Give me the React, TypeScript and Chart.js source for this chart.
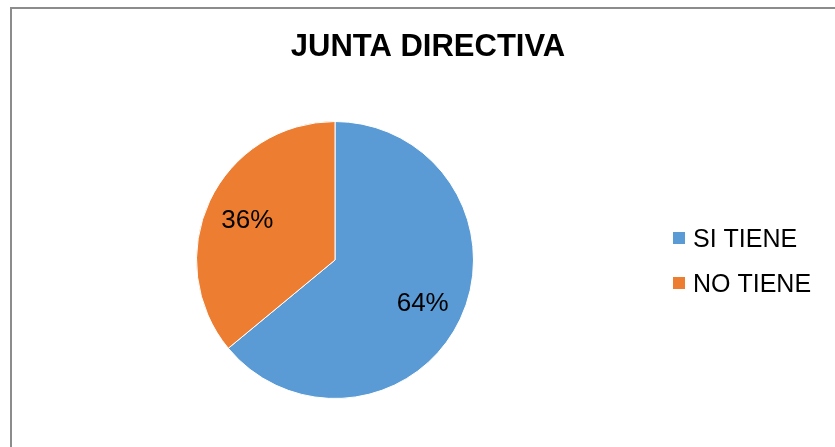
import React, { useEffect, useRef } from "react";
import { Chart, registerables } from "chart.js";

Chart.register(...registerables);

const TITLE = "JUNTA DIRECTIVA";
const CATEGORIES = ["SI TIENE", "NO TIENE"];
const VALUES = [64, 36];
const COLORS = ["#5B9BD5", "#ED7D31"];

const FONT = "'Liberation Sans', Arial, Helvetica, sans-serif";

const topTitle = {
  id: "topTitle",
  afterDraw(chart: any) {
    const ctx = chart.ctx;
    const text = chart.options.plugins.topTitle?.text ?? "";
    ctx.save();
    ctx.font = `bold 31px ${FONT}`;
    ctx.fillStyle = "#000000";
    ctx.textAlign = "center";
    ctx.textBaseline = "alphabetic";
    ctx.fillText(text, chart.width / 2, 49);
    ctx.restore();
  },
};

const pieLabels = {
  id: "pieLabels",
  afterDatasetsDraw(chart: any) {
    const ctx = chart.ctx;
    const meta = chart.getDatasetMeta(0);
    const data = chart.data.datasets[0].data as number[];
    const total = data.reduce((a, b) => a + b, 0);
    const size = 26;
    ctx.save();
    ctx.font = `${size}px ${FONT}`;
    ctx.fillStyle = "#000000";
    ctx.textAlign = "center";
    ctx.textBaseline = "alphabetic";
    meta.data.forEach((arc: any, i: number) => {
      const p = arc.getProps(["x", "y", "startAngle", "endAngle", "outerRadius"], true);
      const mid = (p.startAngle + p.endAngle) / 2;
      const r = p.outerRadius * 0.7;
      const x = p.x + Math.cos(mid) * r;
      const y = p.y + Math.sin(mid) * r;
      ctx.fillText(Math.round((data[i] / total) * 100) + "%", x, y + size * 0.358);
    });
    ctx.restore();
  },
};

const sideLegend = {
  id: "sideLegend",
  afterDraw(chart: any) {
    const ctx = chart.ctx;
    const labels = chart.data.labels as string[];
    const colors = chart.data.datasets[0].backgroundColor as string[];
    const x0 = 663;
    const y0 = 225;
    const gap = 45;
    const box = 12;
    const size = 25;
    ctx.save();
    ctx.font = `${size}px ${FONT}`;
    ctx.textBaseline = "alphabetic";
    ctx.textAlign = "left";
    labels.forEach((lab, i) => {
      const y = y0 + i * gap;
      ctx.fillStyle = colors[i];
      ctx.fillRect(x0, y, box, box);
      ctx.fillStyle = "#000000";
      ctx.fillText(lab, x0 + 20, y + box / 2 + size * 0.358);
    });
    ctx.restore();
  },
};

export default function App() {
  const ref = useRef<HTMLCanvasElement | null>(null);

  useEffect(() => {
    if (!ref.current) return;
    const chart = new Chart(ref.current, {
      type: "pie",
      data: {
        labels: CATEGORIES,
        datasets: [
          {
            data: VALUES,
            backgroundColor: COLORS,
            borderColor: "#ffffff",
            borderWidth: 1,
          },
        ],
      },
      options: {
        responsive: false,
        animation: false,
        events: [],
        layout: { padding: { left: 186, right: 372, top: 114, bottom: 48 } },
        plugins: {
          legend: { display: false },
          tooltip: { enabled: false },
          title: { display: false },
          topTitle: { text: TITLE },
        } as any,
      },
      plugins: [pieLabels, sideLegend, topTitle],
    });
    return () => chart.destroy();
  }, []);

  return (
    <div
      style={{
        position: "fixed",
        left: 0,
        top: 0,
        width: 835,
        height: 447,
        overflow: "hidden",
        background: "#ffffff",
      }}
    >
      <div
        style={{
          position: "absolute",
          left: 10,
          top: 7,
          width: 900,
          height: 500,
          borderLeft: "2px solid #8c8c8c",
          borderTop: "2px solid #8c8c8c",
          boxSizing: "border-box",
        }}
      />
      <canvas
        ref={ref}
        width={836}
        height={440}
        style={{ position: "absolute", left: 10, top: 7, width: 836, height: 440 }}
      />
    </div>
  );
}
